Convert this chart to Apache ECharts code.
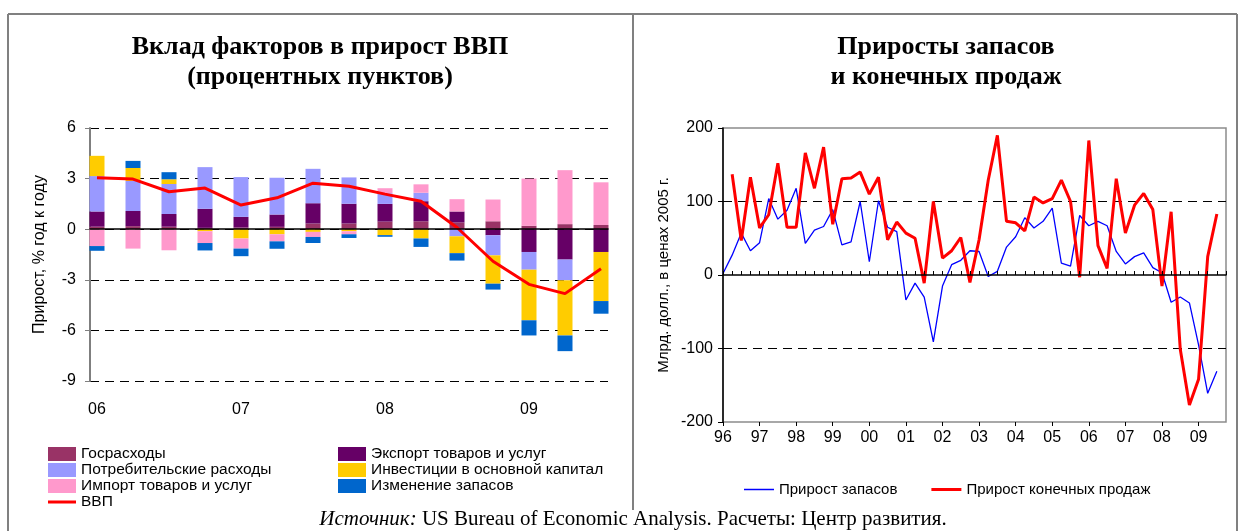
<!DOCTYPE html>
<html>
<head>
<meta charset="utf-8">
<script src="https://cdn.jsdelivr.net/npm/echarts@6/dist/echarts.min.js"></script>
<style>
  html, body { margin: 0; background: #fff; }
  #chart { width: 1245px; height: 531px; }
</style>
</head>
<body>
<div id="chart"></div>
<script>
// left panel: contributions to GDP growth, p.p., 2006Q1 - 2009Q3
const quarters = ['06 I', '06 II', '06 III', '06 IV', '07 I', '07 II', '07 III', '07 IV',
  '08 I', '08 II', '08 III', '08 IV', '09 I', '09 II', '09 III'];
const govSpending = [0.15, 0.18, 0.15, 0.08, 0.1, 0.14, 0.34, 0.34, 0.45, 0.47, 0.4, 0.47, 0.2, 0.3, 0.25];
const exportsContrib = [0.9, 0.9, 0.75, 1.13, 0.63, 0.73, 1.2, 1.17, 1.05, 1.19, 0.65, -0.36, -1.35, -1.8, -1.35];
const consumption = [2.1, 1.78, 1.78, 2.47, 2.36, 2.18, 2.04, 1.56, 0.63, 0.5, -0.42, -1.19, -1.05, -1.23, 0];
const investment = [1.2, 0.77, 0.28, -0.12, -0.55, -0.3, -0.16, -0.12, -0.35, -0.55, -1.0, -1.68, -3.0, -3.27, -2.91];
const importsContrib = [-1.0, -1.15, -1.25, -0.7, -0.6, -0.42, -0.3, -0.18, 0.3, 0.5, 0.73, 1.29, 2.8, 3.2, 2.53];
const inventories = [-0.28, 0.42, 0.42, -0.44, -0.45, -0.44, -0.36, -0.22, -0.1, -0.5, -0.44, -0.35, -0.9, -0.93, -0.75];
const gdp = [3.05, 2.97, 2.22, 2.44, 1.43, 1.86, 2.73, 2.55, 2.08, 1.66, 0.1, -1.9, -3.27, -3.82, -2.34];
const leftTicks = [-9, 6, 3];  // min, max, step

// right panel: quarterly changes, bn 2005 dollars, 1996Q1 - 2009Q4 axis
const years = ['96', '97', '98', '99', '00', '01', '02', '03', '04', '05', '06', '07', '08', '09'];
const inventoryChange = [2, 27, 57, 33, 44, 104, 76, 88, 118, 43,
  61, 66, 89, 41, 45, 100, 18, 101, 65, 59,
  -34, -11, -30, -91, -15, 14, 20, 33, 32, -2,
  5, 38, 52, 78, 64, 73, 91, 16, 12, 81,
  67, 73, 67, 32, 15, 25, 30, 10, 3, -37,
  -30, -38, -95, -161, -131];
const finalSales = [null, 137, 47, 133, 64, 82, 152, 65, 65, 166,
  118, 174, 69, 131, 132, 140, 110, 133, 48, 72,
  57, 50, -11, 100, 23, 33, 51, -10, 48, 129,
  190, 73, 71, 60, 106, 98, 104, 129, 100, -3,
  183, 40, 9, 131, 57, 95, 111, 89, -15, 86,
  -101, -177, -142, 25, 83];
const rightTicks = [-200, 200, 100];

const rightCats = [];
years.forEach(y => { for (let q = 1; q <= 4; q++) rightCats.push(y + ' Q' + q); });

const SANS = 'Liberation Sans, Arial, sans-serif';
const SERIF = 'Liberation Serif, Times New Roman, serif';
const dash = [9, 6];

const chart = echarts.init(document.getElementById('chart'), null, { renderer: 'canvas' });

function stackBar(name, data, color) {
  return {
    name, type: 'bar', stack: 'f', data, barWidth: 15,
    xAxisIndex: 0, yAxisIndex: 0,
    itemStyle: { color },
    emphasis: { disabled: true }
  };
}

function titleText(text, x, y) {
  return {
    type: 'text', x, y,
    style: { text, font: 'bold 26px ' + SERIF, fill: '#000', textAlign: 'center', textVerticalAlign: 'middle' }
  };
}

function frameLine(x1, y1, x2, y2) {
  return { type: 'line', shape: { x1, y1, x2, y2 }, style: { stroke: '#808080', lineWidth: 2 } };
}

const option = {
  backgroundColor: '#fff',
  animation: false,
  textStyle: { fontFamily: SANS },
  grid: [
    { left: 79, top: 128, width: 540, height: 253 },
    { left: 90, top: 128, width: 518, height: 253 },
    { left: 723, top: 128, width: 503, height: 294, show: true, borderColor: '#8c8c8c', borderWidth: 1.5 }
  ],
  xAxis: [
    {
      gridIndex: 0, type: 'category', data: quarters,
      axisLine: { show: false }, axisTick: { show: false },
      axisLabel: { interval: 3, margin: 21, fontSize: 16, color: '#000', formatter: v => v.split(' ')[0] }
    },
    {
      gridIndex: 1, type: 'value', min: 0, max: 1, z: 10,
      axisLine: { onZero: true, lineStyle: { color: '#000', width: 1.5 } },
      axisTick: { show: false }, axisLabel: { show: false }, splitLine: { show: false }
    },
    {
      gridIndex: 2, type: 'category', data: rightCats, boundaryGap: false, position: 'bottom', z: 10,
      axisLine: { onZero: true, lineStyle: { color: '#000', width: 1.5 } },
      axisTick: { show: true, interval: 0, inside: true, length: 4, lineStyle: { color: '#000' } },
      axisLabel: { show: false }
    },
    {
      gridIndex: 2, type: 'category', data: rightCats, boundaryGap: false, position: 'bottom',
      axisLine: { show: false, onZero: true },
      axisTick: { show: true, interval: 3, length: 4, lineStyle: { color: '#000' } },
      axisLabel: { show: false }
    },
    {
      gridIndex: 2, type: 'category', data: rightCats, boundaryGap: false, position: 'bottom',
      axisLine: { show: false, onZero: false }, axisTick: { show: false },
      axisLabel: { interval: 3, margin: 8, fontSize: 16, color: '#000', formatter: v => v.split(' ')[0] }
    }
  ],
  yAxis: [
    { gridIndex: 0, type: 'value', min: leftTicks[0], max: leftTicks[1], interval: leftTicks[2], show: false },
    {
      gridIndex: 1, type: 'value', min: leftTicks[0], max: leftTicks[1], interval: leftTicks[2],
      name: 'Прирост, % год к году', nameLocation: 'middle', nameGap: 42, nameRotate: 90,
      nameTextStyle: { fontSize: 16, color: '#000' },
      axisLine: { show: true, lineStyle: { color: '#7f7f7f', width: 2 } },
      axisTick: { show: true, length: 5, lineStyle: { color: '#7f7f7f' } },
      axisLabel: { fontSize: 16, color: '#000', margin: 14 },
      splitLine: { show: true, lineStyle: { color: '#000', type: dash, width: 1 } }
    },
    {
      gridIndex: 2, type: 'value', min: rightTicks[0], max: rightTicks[1], interval: rightTicks[2],
      name: 'Млрд. долл., в ценах 2005 г.', nameLocation: 'middle', nameGap: 52, nameRotate: 90,
      nameTextStyle: { fontSize: 15, color: '#000' },
      axisLine: { show: true, lineStyle: { color: '#000', width: 1.5 } },
      axisTick: { show: true, length: 5, lineStyle: { color: '#000' } },
      axisLabel: { fontSize: 16, color: '#000', margin: 10 },
      splitLine: { show: true, lineStyle: { color: ['rgba(0,0,0,0)', '#000', 'rgba(0,0,0,0)', '#000', 'rgba(0,0,0,0)'], type: dash, width: 1 } }
    }
  ],
  legend: [
    {
      left: 43, top: 441, orient: 'vertical', itemWidth: 28, itemHeight: 14, itemGap: 0,
      icon: 'rect', selectedMode: false,
      textStyle: { fontSize: 15.5, lineHeight: 14, color: '#000' },
      data: ['Госрасходы', 'Потребительские расходы', 'Импорт товаров и услуг',
        { name: 'ВВП', icon: 'path://M0,0 L28,0 L28,3 L0,3 Z' }]
    },
    {
      left: 333, top: 441, orient: 'vertical', itemWidth: 28, itemHeight: 14, itemGap: 0,
      icon: 'rect', selectedMode: false,
      textStyle: { fontSize: 15.5, lineHeight: 14, color: '#000' },
      data: ['Экспорт товаров и услуг', 'Инвестиции в основной капитал', 'Изменение запасов']
    },
    {
      left: 739, top: 477, orient: 'horizontal', itemWidth: 30, itemHeight: 12, itemGap: 34,
      selectedMode: false,
      textStyle: { fontSize: 15, color: '#000' },
      data: [
        { name: 'Прирост запасов', icon: 'path://M0,0 L30,0 L30,1.5 L0,1.5 Z' },
        { name: 'Прирост конечных продаж', icon: 'path://M0,0 L30,0 L30,3 L0,3 Z' }
      ]
    }
  ],
  series: [
    stackBar('Госрасходы', govSpending, '#993366'),
    stackBar('Экспорт товаров и услуг', exportsContrib, '#660066'),
    stackBar('Потребительские расходы', consumption, '#9999FF'),
    stackBar('Инвестиции в основной капитал', investment, '#FFCC00'),
    stackBar('Импорт товаров и услуг', importsContrib, '#FF99CC'),
    stackBar('Изменение запасов', inventories, '#0066CC'),
    {
      name: 'ВВП', type: 'line', data: gdp, xAxisIndex: 0, yAxisIndex: 0, z: 5,
      symbol: 'none', lineStyle: { color: '#FF0000', width: 3 }, itemStyle: { color: '#FF0000' }
    },
    {
      name: 'Прирост запасов', type: 'line', data: inventoryChange, xAxisIndex: 2, yAxisIndex: 2,
      symbol: 'none', lineStyle: { color: '#0000FF', width: 1.3 }, itemStyle: { color: '#0000FF' }
    },
    {
      name: 'Прирост конечных продаж', type: 'line', data: finalSales, xAxisIndex: 2, yAxisIndex: 2,
      symbol: 'none', lineStyle: { color: '#FF0000', width: 3 }, itemStyle: { color: '#FF0000' }
    }
  ],
  graphic: [
    frameLine(8, 14, 1237, 14),
    frameLine(8, 14, 8, 531),
    frameLine(1237, 14, 1237, 531),
    frameLine(633, 14, 633, 510),
    titleText('Вклад факторов в прирост ВВП', 320, 47),
    titleText('(процентных пунктов)', 320, 77),
    titleText('Приросты запасов', 946, 47),
    titleText('и конечных продаж', 946, 77),
    {
      type: 'text', x: 633, y: 519,
      style: {
        text: '{i|Источник:} US Bureau of Economic Analysis. Расчеты: Центр развития.',
        font: '21px ' + SERIF, fill: '#000', textAlign: 'center', textVerticalAlign: 'middle',
        rich: { i: { fontStyle: 'italic', fontFamily: SERIF, fontSize: 21 } }
      }
    }
  ]
};

chart.setOption(option);
</script>
</body>
</html>
